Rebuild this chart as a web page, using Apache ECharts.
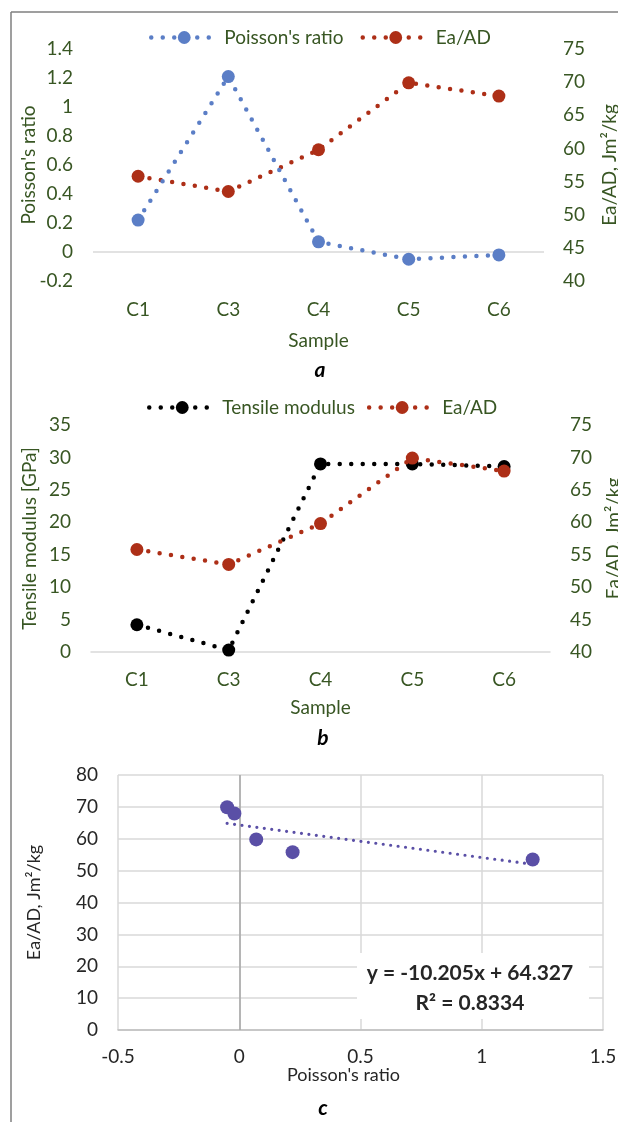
<!DOCTYPE html>
<html>
<head>
<meta charset="utf-8">
<script src="https://cdn.jsdelivr.net/npm/echarts@6/dist/echarts.min.js"></script>
<style>
html,body{margin:0;padding:0;background:#fff;}
#c{width:618px;height:1122px;}
</style>
</head>
<body>
<div id="c"></div>
<script>
// ---- data ----
const samples = ['C1', 'C3', 'C4', 'C5', 'C6'];
const poisson = [0.22, 1.21, 0.07, -0.05, -0.02];
const eaAD = [55.8, 53.5, 59.8, 69.9, 67.9];
const tensile = [4.2, 0.3, 29.0, 29.0, 28.6];
const trendSlope = -10.205;
const trendIntercept = 64.327;
const trendLabel = ['y = -10.205x + 64.327', 'R² = 0.8334'];

// ---- styling ----
const FONT = 'Lato, "Open Sans", sans-serif';
const FS = 19;
const GREEN = '#385623';
const BLUE = '#5b7ec6';
const RED = '#ad2f17';
const PURPLE = '#5a4fa6';
const DARK = '#262626';

const dotted = (color, w, gap) => ({ color: color, width: w, type: [0, gap], cap: 'round' });

const chart = echarts.init(document.getElementById('c'), null, { renderer: 'canvas' });

const scatterData = poisson.map((p, i) => [p, eaAD[i]]);
const xMin = Math.min.apply(null, poisson), xMax = Math.max.apply(null, poisson);
const trendData = [[xMin, trendSlope * xMin + trendIntercept], [xMax, trendSlope * xMax + trendIntercept]];

const catAxis = (gi, labelMargin, nameGap, showLine) => ({
  type: 'category', gridIndex: gi, data: samples, boundaryGap: true,
  axisTick: { show: false },
  axisLine: { show: showLine, lineStyle: { color: '#d9d9d9', width: 1.5 } },
  axisLabel: { color: GREEN, fontSize: FS, fontFamily: FONT, margin: labelMargin },
  name: 'Sample', nameLocation: 'middle', nameGap: nameGap, nameMoveOverlap: false,
  nameTextStyle: { color: GREEN, fontSize: FS, fontFamily: FONT }
});

const valAxis = (gi, pos, min, max, interval, name, nameGap, labelMargin) => ({
  type: 'value', gridIndex: gi, position: pos, min: min, max: max, interval: interval,
  splitLine: { show: false }, axisLine: { show: false }, axisTick: { show: false },
  axisLabel: { color: GREEN, fontSize: FS, fontFamily: FONT, margin: labelMargin },
  name: name, nameLocation: 'middle', nameGap: nameGap, nameRotate: 90, nameMoveOverlap: false,
  nameTextStyle: { color: GREEN, fontSize: FS, fontFamily: FONT }
});

const legendBase = {
  itemWidth: 66, itemHeight: 16,
  lineStyle: { width: 4.5, type: [0, 11.5], cap: 'round' },
  textStyle: { color: GREEN, fontSize: FS, fontFamily: FONT, padding: [0, 0, 0, 2] }
};

const gridBase = { containLabel: false, outerBoundsMode: 'none' };

const option = {
  animation: false,
  backgroundColor: '#ffffff',
  textStyle: { fontFamily: FONT },
  grid: [
    Object.assign({}, gridBase, { left: 93, right: 74, top: 49, bottom: 841 }),
    Object.assign({}, gridBase, { left: 91, right: 68, top: 425, bottom: 470 }),
    Object.assign({}, gridBase, { left: 118, right: 15, top: 775, bottom: 92 })
  ],
  legend: [
    Object.assign({}, legendBase, { top: 23, left: 144, itemGap: 17, data: ["Poisson's ratio", 'Ea/AD'] }),
    Object.assign({}, legendBase, { top: 393, left: 142, itemGap: 12, data: ['Tensile modulus', 'Ea/AD '] })
  ],
  xAxis: [
    catAxis(0, 19, 50, false),
    catAxis(1, 18, 46, true),
    {
      type: 'value', gridIndex: 2, min: -0.5, max: 1.5, interval: 0.5,
      axisLine: { show: true, onZero: false, lineStyle: { color: '#bfbfbf', width: 1.5 } },
      axisTick: { show: false },
      splitLine: { show: true, lineStyle: { color: '#d9d9d9', width: 1.5 } },
      axisLabel: { color: DARK, fontSize: FS, fontFamily: FONT, margin: 17 },
      name: "Poisson's ratio", nameLocation: 'middle', nameGap: 36, nameMoveOverlap: false,
      nameTextStyle: { color: DARK, fontSize: 18, fontFamily: FONT, padding: [0, 34, 0, 0] }
    }
  ],
  yAxis: [
    valAxis(0, 'left', -0.2, 1.4, 0.2, "Poisson's ratio", 55, 20),
    valAxis(0, 'right', 40, 75, 5, 'Ea/AD, Jm²/kg', 56, 19),
    valAxis(1, 'left', 0, 35, 5, 'Tensile modulus [GPa]', 52, 20),
    valAxis(1, 'right', 40, 75, 5, 'Ea/AD, Jm²/kg', 54, 20),
    {
      type: 'value', gridIndex: 2, min: 0, max: 80, interval: 10,
      axisLine: { show: false, onZero: false }, axisTick: { show: false },
      splitLine: { show: true, lineStyle: { color: '#d9d9d9', width: 1.5 } },
      axisLabel: { color: DARK, fontSize: FS, fontFamily: FONT, margin: 20 },
      name: 'Ea/AD, Jm²/kg', nameLocation: 'middle', nameGap: 75, nameRotate: 90, nameMoveOverlap: false,
      nameTextStyle: { color: DARK, fontSize: 18, fontFamily: FONT }
    }
  ],
  series: [
    {
      name: "Poisson's ratio", type: 'line', xAxisIndex: 0, yAxisIndex: 0, data: poisson,
      symbol: 'circle', symbolSize: 13, itemStyle: { color: BLUE },
      lineStyle: dotted(BLUE, 4.5, 11.5), z: 3,
      markLine: {
        silent: true, symbol: 'none', label: { show: false },
        lineStyle: { color: '#d9d9d9', type: 'solid', width: 1.5 },
        data: [{ yAxis: 0 }], z: 1
      }
    },
    {
      name: 'Ea/AD', type: 'line', xAxisIndex: 0, yAxisIndex: 1, data: eaAD,
      symbol: 'circle', symbolSize: 13, itemStyle: { color: RED },
      lineStyle: dotted(RED, 4.5, 11.5), z: 2
    },
    {
      name: 'Tensile modulus', type: 'line', xAxisIndex: 1, yAxisIndex: 2, data: tensile,
      symbol: 'circle', symbolSize: 13, itemStyle: { color: '#000000' },
      lineStyle: dotted('#000000', 4.5, 11.5), z: 2
    },
    {
      name: 'Ea/AD ', type: 'line', xAxisIndex: 1, yAxisIndex: 3, data: eaAD,
      symbol: 'circle', symbolSize: 13, itemStyle: { color: RED },
      lineStyle: dotted(RED, 4.5, 11.5), z: 3
    },
    {
      name: 'Trendline', type: 'line', xAxisIndex: 2, yAxisIndex: 4, data: trendData,
      symbol: 'none', lineStyle: dotted(PURPLE, 3.2, 7.5), z: 2,
      markLine: {
        silent: true, symbol: 'none', label: { show: false },
        lineStyle: { color: '#a6a6a6', type: 'solid', width: 1.5 },
        data: [{ xAxis: 0 }], z: 1
      }
    },
    {
      name: 'Ea/AD vs Poisson', type: 'scatter', xAxisIndex: 2, yAxisIndex: 4, data: scatterData,
      symbol: 'circle', symbolSize: 14, itemStyle: { color: PURPLE, opacity: 1 }, z: 3
    }
  ],
  graphic: [
    { type: 'line', shape: { x1: 11, y1: 12, x2: 618, y2: 12 }, style: { stroke: '#7f7f7f', lineWidth: 1.5 }, z: 10 },
    { type: 'line', shape: { x1: 11, y1: 12, x2: 11, y2: 1122 }, style: { stroke: '#7f7f7f', lineWidth: 1.5 }, z: 10 },
    { type: 'text', x: 320, y: 370, style: { text: 'a', font: 'italic bold 21px ' + FONT, fill: '#000', textAlign: 'center', textVerticalAlign: 'middle' } },
    { type: 'text', x: 323, y: 738, style: { text: 'b', font: 'italic bold 21px ' + FONT, fill: '#000', textAlign: 'center', textVerticalAlign: 'middle' } },
    { type: 'text', x: 323, y: 1108, style: { text: 'c', font: 'italic bold 21px ' + FONT, fill: '#000', textAlign: 'center', textVerticalAlign: 'middle' } },
    { type: 'rect', shape: { x: 357, y: 953, width: 232, height: 66 }, style: { fill: '#ffffff' }, z: 50 },
    { type: 'text', x: 470, y: 973, z: 51, style: { text: trendLabel[0], font: 'bold 21px ' + FONT, fill: DARK, textAlign: 'center', textVerticalAlign: 'middle' } },
    { type: 'text', x: 470, y: 1003, z: 51, style: { text: trendLabel[1], font: 'bold 21px ' + FONT, fill: DARK, textAlign: 'center', textVerticalAlign: 'middle' } }
  ]
};
chart.setOption(option);
</script>
</body>
</html>
